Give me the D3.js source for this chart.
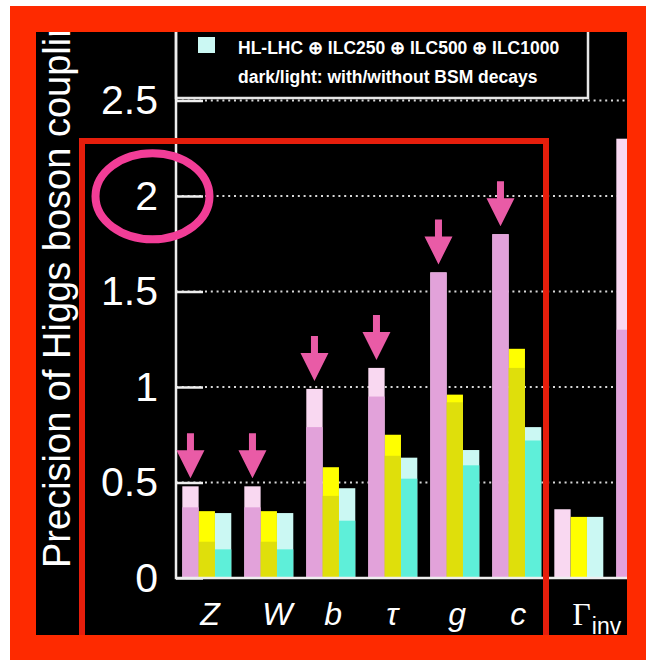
<!DOCTYPE html>
<html>
<head>
<meta charset="utf-8">
<script src="https://cdn.jsdelivr.net/npm/d3@7"></script>
<style>
  html, body { margin: 0; padding: 0; background: #fff; }
  svg { display: block; }
</style>
</head>
<body>
<svg id="chart" width="646" height="660"></svg>
<script>
// Higgs coupling precision (%) per coupling, three run scenarios.
// "With" = with BSM decays (dark part), "Without" = without BSM decays (light part).
const categories = ["Z", "W", "b", "τ", "g", "c", "Γinv", "γ"];
const seriesNames = ["HL-LHC ⊕ ILC250", "HL-LHC ⊕ ILC250 ⊕ ILC500", "HL-LHC ⊕ ILC250 ⊕ ILC500 ⊕ ILC1000"];

const ilc250With     = [0.37, 0.37, 0.79, 0.95, 1.60, 1.80, null, 1.30];
const ilc250Without  = [0.48, 0.48, 0.99, 1.10, 1.60, 1.80, 0.36, 2.30];
const ilc500With     = [0.19, 0.19, 0.43, 0.64, 0.92, 1.10, null, null];
const ilc500Without  = [0.35, 0.35, 0.58, 0.75, 0.96, 1.20, 0.32, null];
const ilc1000With    = [0.15, 0.15, 0.30, 0.52, 0.59, 0.72, null, null];
const ilc1000Without = [0.34, 0.34, 0.47, 0.63, 0.67, 0.79, 0.32, null];

const yTicks = [0, 0.5, 1, 1.5, 2, 2.5];
const yTickLabels = ["0", "0.5", "1", "1.5", "2", "2.5"];
const highlighted = ["Z", "W", "b", "τ", "g", "c"];

const colors = [
  { dark: "#e2a2da", light: "#f9d8f1" },
  { dark: "#dfdf0b", light: "#ffff00" },
  { dark: "#5eefd9", light: "#cbf8f3" }
];

const svg = d3.select("#chart");
const W = 646, H = 660;

// frame
svg.append("rect").attr("width", W).attr("height", H).attr("fill", "#fff");
svg.append("rect").attr("x", 10).attr("y", 6).attr("width", 636).attr("height", 654).attr("fill", "#fe2a00");
const inner = { x: 36, y: 32, w: 591, h: 603 };
svg.append("rect").attr("x", inner.x).attr("y", inner.y).attr("width", inner.w).attr("height", inner.h).attr("fill", "#000");

svg.append("defs").append("clipPath").attr("id", "panel")
  .append("rect").attr("x", inner.x).attr("y", inner.y).attr("width", inner.w).attr("height", inner.h);

const g = svg.append("g").attr("clip-path", "url(#panel)");

const axisX = 176, baseY = 578, rightX = 627;
const y = d3.scaleLinear().domain([0, 2.5]).range([baseY, baseY - 2.5 * 191]);
const x = d3.scaleBand().domain(categories).range([axisX, 671.6]).paddingInner(0.21).paddingOuter(0.1016);
const xs = d3.scaleBand().domain([0, 1, 2]).range([0, x.bandwidth()]);

// dotted grid
g.append("g").selectAll("line").data(yTicks.filter(v => v > 0)).join("line")
  .attr("x1", axisX).attr("x2", rightX)
  .attr("y1", d => y(d)).attr("y2", d => y(d))
  .attr("stroke", "#d8d8d8").attr("stroke-width", 2).attr("stroke-dasharray", "2,3.8");

// legend box
const legend = g.append("g");
legend.append("rect").attr("x", axisX).attr("y", 10).attr("width", 412).attr("height", 88)
  .attr("fill", "#000").attr("stroke", "#e6e6e6").attr("stroke-width", 2.5);
legend.append("rect").attr("x", 198).attr("y", 37).attr("width", 17).attr("height", 16).attr("fill", colors[2].light);
legend.append("text").attr("x", 238).attr("y", 53.5)
  .attr("font-family", "Liberation Sans, Arial, sans-serif").attr("font-weight", "bold").attr("font-size", 17.5)
  .attr("fill", "#fff").text(seriesNames[2]);
legend.append("text").attr("x", 238).attr("y", 83)
  .attr("font-family", "Liberation Sans, Arial, sans-serif").attr("font-weight", "bold").attr("font-size", 17.5)
  .attr("fill", "#fff").text("dark/light: with/without BSM decays");

// bars
const seriesWith = [ilc250With, ilc500With, ilc1000With];
const seriesWithout = [ilc250Without, ilc500Without, ilc1000Without];
const bars = [];
categories.forEach((cat, i) => {
  for (let s = 0; s < 3; s++) {
    bars.push({ cat, s, light: seriesWithout[s][i], dark: seriesWith[s][i] });
  }
});
const barG = g.append("g");
barG.selectAll("rect.light").data(bars.filter(d => d.light != null)).join("rect")
  .attr("class", "light")
  .attr("x", d => x(d.cat) + xs(d.s)).attr("width", xs.bandwidth())
  .attr("y", d => y(d.light)).attr("height", d => baseY - y(d.light))
  .attr("fill", d => colors[d.s].light);
barG.selectAll("rect.dark").data(bars.filter(d => d.dark != null)).join("rect")
  .attr("class", "dark")
  .attr("x", d => x(d.cat) + xs(d.s)).attr("width", xs.bandwidth())
  .attr("y", d => y(d.dark)).attr("height", d => baseY - y(d.dark))
  .attr("fill", d => colors[d.s].dark);

// axes
const yAxis = d3.axisLeft(y).tickValues(yTicks)
  .tickFormat((d, i) => yTickLabels[i])
  .tickSizeInner(-27).tickSizeOuter(0).tickPadding(18);
const ya = g.append("g").attr("transform", `translate(${axisX},0)`).call(yAxis);
ya.select(".domain").remove();
ya.selectAll(".tick line").attr("stroke", "#eee").attr("stroke-width", 2.5);
ya.selectAll(".tick text").attr("fill", "#fff")
  .attr("font-family", "Liberation Sans, Arial, Helvetica, sans-serif").attr("font-size", 41);

g.append("line").attr("x1", axisX).attr("x2", axisX).attr("y1", 20).attr("y2", baseY + 1.2)
  .attr("stroke", "#eee").attr("stroke-width", 2.5);
g.append("line").attr("x1", axisX).attr("x2", rightX).attr("y1", baseY).attr("y2", baseY)
  .attr("stroke", "#eee").attr("stroke-width", 2.5);

// category labels (only those that start inside the panel)
const labG = g.append("g").attr("fill", "#fff");
categories.filter(cat => x(cat) + 18 < rightX - 20).forEach(cat => {
  const t = labG.append("text").attr("x", x(cat) + 18).attr("y", 625);
  if (cat === "Γinv") {
    t.append("tspan").attr("font-family", "Liberation Serif, Times New Roman, serif")
      .attr("font-size", 32).text("Γ");
    t.append("tspan").attr("font-family", "Liberation Sans, Arial, sans-serif")
      .attr("font-size", 23).attr("dx", 1).attr("dy", 9).text("inv");
  } else {
    t.attr("font-family", "Liberation Sans, Arial, sans-serif").attr("font-style", "italic")
      .attr("font-size", 32).text(cat);
  }
});

// y title
g.append("text").attr("transform", "translate(70,568) rotate(-90)")
  .attr("font-family", "Liberation Sans, Arial, Helvetica, sans-serif").attr("font-size", 38)
  .attr("fill", "#fff").text("Precision of Higgs boson couplings [%]");

// highlight box, ellipse and arrows
g.append("path")
  .attr("d", `M82,${inner.y + inner.h + 2} V141 H546 V${inner.y + inner.h + 2}`)
  .attr("fill", "none").attr("stroke", "#e61e0c").attr("stroke-width", 6);

g.append("ellipse").attr("cx", 152.5).attr("cy", 196.3).attr("rx", 57).attr("ry", 43)
  .attr("fill", "none").attr("stroke", "#f23d97").attr("stroke-width", 8);

const arrowG = g.append("g").attr("fill", "#e95ba6");
highlighted.forEach(cat => {
  const i = categories.indexOf(cat);
  const cx = x(cat) + xs(0) + xs.bandwidth() / 2;
  const ty = y(ilc250Without[i]) - 8;
  arrowG.append("path").attr("d",
    `M${cx - 3.5},${ty - 45} H${cx + 3.5} V${ty - 28} H${cx + 14} L${cx},${ty} L${cx - 14},${ty - 28} H${cx - 3.5} Z`);
});
</script>
</body>
</html>
